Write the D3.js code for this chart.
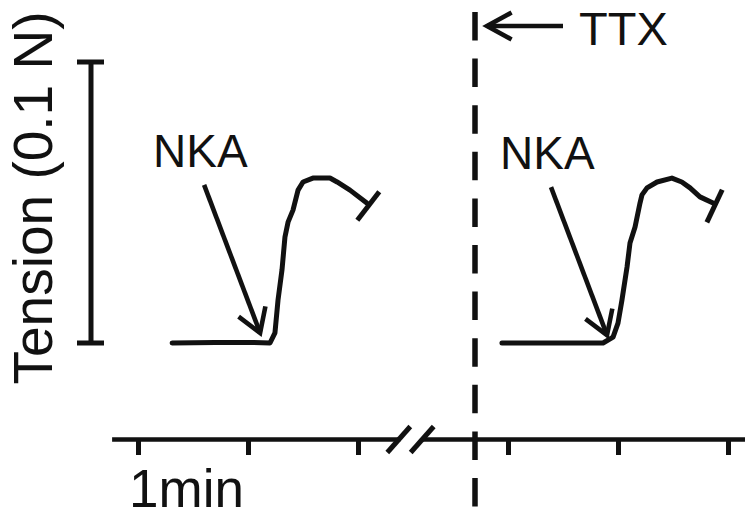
<!DOCTYPE html>
<html>
<head>
<meta charset="utf-8">
<script src="https://cdn.jsdelivr.net/npm/d3@7"></script>
<style>
  body { margin: 0; background: #fff; }
  svg { display: block; }
  text { font-family: "Liberation Sans", Arial, sans-serif; fill: #111; }
</style>
</head>
<body>
<svg id="chart"></svg>
<script>
// time in minutes (each side of the axis break has its own origin), tension in mN
var timeTicks = [0, 1, 2];
var segBeforeSpan = [-0.24, 2.38];
var segAfterSpan = [-0.78, 2.15];
var scaleBarValues = [0, 100];          // 0.1 N
var ttxTime = -0.3;                     // on the "after" segment

var traceBefore = [
    [0.31, 0], [0.70, 0.2], [1.05, 0.2], [1.20, 0], [1.245, 3.6], [1.273, 15.3],
    [1.309, 26], [1.336, 37.7], [1.364, 43], [1.409, 47.3], [1.455, 54.4],
    [1.50, 57.3], [1.59, 58.7], [1.745, 58.7], [1.81, 57.3], [1.927, 54.4], [2.08, 49.8]
];
var traceAfter = [
    [-0.055, 0], [0.40, 0], [0.864, 0], [0.955, 2.1], [1.0, 7.1], [1.036, 15.3],
    [1.082, 27], [1.109, 35.6], [1.155, 41.3], [1.2, 49.8], [1.218, 52.7],
    [1.264, 55.2], [1.355, 57.3], [1.49, 58.7], [1.58, 57.3], [1.655, 55.2],
    [1.745, 52], [1.864, 49.8]
];
// where the NKA arrows point: [time, tension]
var nkaBefore = [1.11, 3.6];
var nkaAfter = [0.90, 2.8];

(function() {
    var width = 748, height = 517, ink = "#111";

    var svg = d3.select("#chart")
        .attr("width", width)
        .attr("height", height);

    // scales
    var xBefore = d3.scaleLinear().domain([0, 1]).range([138, 248]);
    var xAfter = d3.scaleLinear().domain([0, 1]).range([508, 618]);
    var y = d3.scaleLinear().domain(scaleBarValues).range([343, 62]);
    var axisY = 439;

    // arrow helper: straight shaft with an open chevron head
    function arrow(tail, tip, len, ang) {
        var a = Math.atan2(tail[1] - tip[1], tail[0] - tip[0]);
        var g = svg.append("g")
            .attr("stroke", ink)
            .attr("stroke-width", 4.6)
            .attr("fill", "none");
        g.append("line")
            .attr("x1", tail[0]).attr("y1", tail[1])
            .attr("x2", tip[0]).attr("y2", tip[1]);
        g.append("path")
            .attr("stroke-linejoin", "miter")
            .attr("d", "M" + (tip[0] + len * Math.cos(a + ang)) + "," + (tip[1] + len * Math.sin(a + ang)) +
                "L" + tip[0] + "," + tip[1] +
                "L" + (tip[0] + len * Math.cos(a - ang)) + "," + (tip[1] + len * Math.sin(a - ang)));
    }

    // time axis, two pieces with a break
    [[xBefore, segBeforeSpan], [xAfter, segAfterSpan]].forEach(function(s) {
        var sx = s[0].copy().domain(s[1]).range(s[1].map(s[0]));
        var g = svg.append("g")
            .attr("transform", "translate(0," + axisY + ")")
            .call(d3.axisBottom(sx).tickValues(timeTicks).tickSize(16).tickSizeOuter(0).tickFormat(""));
        g.select(".domain").attr("stroke", ink).attr("stroke-width", 4.5);
        g.selectAll(".tick line").attr("stroke", ink).attr("stroke-width", 5);
    });

    // break slashes
    [xBefore(segBeforeSpan[1]) - 1, xAfter(segAfterSpan[0])].forEach(function(cx) {
        svg.append("line")
            .attr("x1", cx - 11.5).attr("y1", axisY + 13.5)
            .attr("x2", cx + 11.5).attr("y2", axisY - 12.5)
            .attr("stroke", ink)
            .attr("stroke-width", 5);
    });

    svg.append("text")
        .attr("x", 129)
        .attr("y", 507)
        .style("font-size", "53px")
        .text("1min");

    // TTX marker
    var ttxX = xAfter(ttxTime);
    svg.append("line")
        .attr("x1", ttxX).attr("y1", 12)
        .attr("x2", ttxX).attr("y2", height)
        .attr("stroke", ink)
        .attr("stroke-width", 5.5)
        .attr("stroke-dasharray", "28.5,18.1");
    arrow([ttxX + 88, 26], [ttxX + 12, 26], 28, 0.5);
    svg.append("text")
        .attr("x", ttxX + 104)
        .attr("y", 45)
        .style("font-size", "47px")
        .text("TTX");

    // tension scale bar
    var barX = 91;
    var bar = svg.append("g").attr("stroke", ink).attr("stroke-width", 5);
    bar.append("line")
        .attr("x1", barX).attr("x2", barX)
        .attr("y1", y(scaleBarValues[0])).attr("y2", y(scaleBarValues[1]));
    bar.selectAll(".cap")
        .data(scaleBarValues)
        .enter()
        .append("line")
        .attr("x1", barX - 14).attr("x2", barX + 13)
        .attr("y1", d => y(d)).attr("y2", d => y(d));

    svg.append("text")
        .attr("transform", "translate(52,198) rotate(-90)")
        .style("text-anchor", "middle")
        .style("font-size", "55px")
        .text("Tension (0.1 N)");

    // traces
    function drawTrace(data, sx, nka) {
        var line = d3.line()
            .x(d => sx(d[0]))
            .y(d => y(d[1]));
        svg.append("path")
            .datum(data)
            .attr("d", line)
            .attr("fill", "none")
            .attr("stroke", ink)
            .attr("stroke-width", 5)
            .attr("stroke-linejoin", "round")
            .attr("stroke-linecap", "round");

        // end tick, perpendicular to the last segment
        var p1 = data[data.length - 2], p2 = data[data.length - 1];
        var ex = sx(p2[0]), ey = y(p2[1]);
        var dx = ex - sx(p1[0]), dy = ey - y(p1[1]);
        var l = Math.sqrt(dx * dx + dy * dy);
        var nx = -dy / l, ny = dx / l, cx = ex + 1.5, cy = ey + 3;
        svg.append("line")
            .attr("x1", cx - 18 * nx).attr("y1", cy - 18 * ny)
            .attr("x2", cx + 18 * nx).attr("y2", cy + 18 * ny)
            .attr("stroke", ink)
            .attr("stroke-width", 5);

        // NKA arrow and label
        var tip = [sx(nka[0]), y(nka[1])];
        var tail = [tip[0] - 56, tip[1] - 148];
        arrow(tail, tip, 27, 0.56);
        svg.append("text")
            .attr("x", tail[0] - 51)
            .attr("y", tail[1] - 18)
            .style("font-size", "46px")
            .text("NKA");
    }

    drawTrace(traceBefore, xBefore, nkaBefore);
    drawTrace(traceAfter, xAfter, nkaAfter);
})();
</script>
</body>
</html>
